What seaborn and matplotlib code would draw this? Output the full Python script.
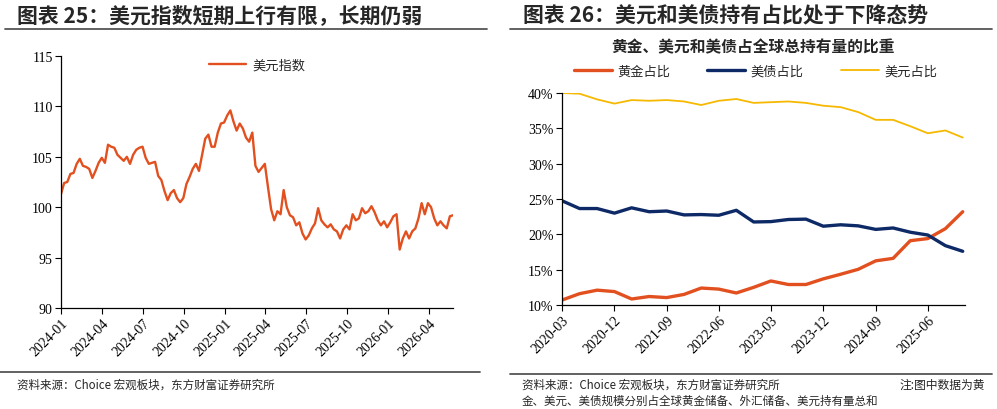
import matplotlib
matplotlib.use("Agg")
import matplotlib.pyplot as plt
import matplotlib.dates as mdates
from matplotlib.ticker import PercentFormatter
import pandas as pd
import seaborn as sns

# ---- data ----
# 美元指数, weekly readings from 2024-01-01
dxy = [101.3, 102.4, 102.5, 103.3, 103.4, 104.3, 104.8, 104.1, 104.0, 103.8,
       102.9, 103.6, 104.4, 104.9, 104.4, 106.2, 106.0, 105.9, 105.2, 104.9,
       104.6, 105.0, 104.3, 105.2, 105.7, 105.9, 106.0, 104.9, 104.3, 104.4,
       104.5, 103.1, 102.7, 101.6, 100.7, 101.4, 101.7, 100.9, 100.5, 100.9,
       102.3, 103.0, 103.8, 104.3, 103.6, 105.2, 106.8, 107.2, 106.0, 106.0,
       107.4, 108.3, 108.4, 109.1, 109.6, 108.5, 107.6, 108.3, 107.8, 106.9,
       106.5, 107.4, 104.1, 103.5, 103.9, 104.3, 102.0, 99.8, 98.7, 99.6,
       99.3, 101.7, 100.0, 99.2, 99.0, 98.2, 98.5, 97.4, 96.8, 97.2,
       97.9, 98.4, 99.9, 98.7, 98.3, 98.0, 98.3, 97.8, 97.6, 96.9,
       97.8, 98.2, 97.8, 99.3, 98.7, 98.9, 99.9, 99.4, 99.6, 100.1,
       99.5, 98.7, 98.2, 98.6, 98.0, 98.5, 99.1, 99.3, 95.8, 96.9,
       97.6, 96.9, 97.6, 97.9, 98.9, 100.4, 99.3, 100.4, 100.0, 98.9,
       98.2, 98.6, 98.2, 97.9, 99.1, 99.2]
dxy_start = "2024-01-01"
left_ticks = ["2024-01", "2024-04", "2024-07", "2024-10", "2025-01",
              "2025-04", "2025-07", "2025-10", "2026-01", "2026-04"]

quarters = ["2020-03", "2020-06", "2020-09", "2020-12", "2021-03", "2021-06",
            "2021-09", "2021-12", "2022-03", "2022-06", "2022-09", "2022-12",
            "2023-03", "2023-06", "2023-09", "2023-12", "2024-03", "2024-06",
            "2024-09", "2024-12", "2025-03", "2025-06", "2025-09", "2025-12"]
gold_share = [10.7, 11.6, 12.1, 11.9, 10.85, 11.2, 11.05, 11.5, 12.4, 12.25,
              11.7, 12.5, 13.4, 12.9, 12.9, 13.7, 14.35, 15.05, 16.25, 16.6,
              19.1, 19.4, 20.8, 23.2]
ust_share = [24.75, 23.65, 23.65, 23.0, 23.75, 23.2, 23.3, 22.75, 22.8, 22.7,
             23.4, 21.75, 21.8, 22.1, 22.15, 21.15, 21.35, 21.2, 20.7, 20.9,
             20.3, 19.9, 18.4, 17.6]
usd_share = [40.0, 39.9, 39.1, 38.5, 39.0, 38.9, 39.0, 38.8, 38.3, 38.9,
             39.15, 38.6, 38.7, 38.8, 38.6, 38.2, 38.0, 37.3, 36.2, 36.2,
             35.3, 34.3, 34.7, 33.7]
series_names = ["黄金占比", "美债占比", "美元占比"]
right_ticks = ["2020-03", "2020-12", "2021-09", "2022-06", "2023-03",
               "2023-12", "2024-09", "2025-06"]

# ---- style ----
sns.set_theme(style="ticks")
plt.rcParams["font.family"] = ["Noto Sans CJK SC", "DejaVu Sans"]
orange = "#E2501F"
navy = "#0D2A66"
yellow = "#F6B900"
W, H = 997, 410

fig = plt.figure(figsize=(W / 100, H / 100), dpi=100)


def fx(px):
    return px / W


def fy(py):
    return 1 - py / H


# ---- left panel ----
df_l = pd.DataFrame({"date": pd.date_range(dxy_start, periods=len(dxy), freq="7D"),
                     "美元指数": dxy})
ax1 = fig.add_axes([fx(61), fy(309), fx(453 - 61), (309 - 57) / H])
sns.lineplot(data=df_l, x="date", y="美元指数", color=orange, lw=1.7,
             label="美元指数", ax=ax1)
ax1.set_ylim(90, 115)
ax1.set_yticks(range(90, 116, 5))
ax1.set_xlim(pd.Timestamp("2024-01-01"), df_l["date"].iloc[-1])
ax1.set_xticks(pd.to_datetime(left_ticks))
ax1.xaxis.set_major_formatter(mdates.DateFormatter("%Y-%m"))
ax1.legend(loc="center", bbox_to_anchor=(0.5, 0.964), frameon=False,
           handlelength=2.8, fontsize=9.5, handletextpad=0.5)

# ---- right panel ----
df_r = pd.DataFrame({"date": pd.to_datetime(quarters),
                     series_names[0]: gold_share,
                     series_names[1]: ust_share,
                     series_names[2]: usd_share})
df_r = df_r.melt(id_vars="date", var_name="系列", value_name="占比")
ax2 = fig.add_axes([fx(562), fy(306), fx(965 - 562), (306 - 94) / H])
sns.lineplot(data=df_r, x="date", y="占比", hue="系列", hue_order=series_names,
             palette=[orange, navy, yellow], size="系列",
             sizes={series_names[0]: 2.4, series_names[1]: 2.4, series_names[2]: 1.3},
             ax=ax2)
ax2.set_ylim(10, 40)
ax2.set_yticks(range(10, 41, 5))
ax2.yaxis.set_major_formatter(PercentFormatter(decimals=0))
ax2.set_xlim(pd.Timestamp(quarters[0]), pd.Timestamp(quarters[-1]) + pd.Timedelta(days=12))
ax2.set_xticks(pd.to_datetime(right_ticks))
ax2.xaxis.set_major_formatter(mdates.DateFormatter("%Y-%m"))
handles, labels = ax2.get_legend_handles_labels()
ax2.legend(handles[:3], labels[:3], loc="center", bbox_to_anchor=(0.48, 1.104),
           ncol=3, frameon=False, handlelength=2.9, columnspacing=2.8,
           handletextpad=0.4, fontsize=9.5)

for ax in (ax1, ax2):
    ax.set_xlabel("")
    ax.set_ylabel("")
    sns.despine(ax=ax)
    for s in ("left", "bottom"):
        ax.spines[s].set_color("black")
        ax.spines[s].set_linewidth(0.9)
    ax.tick_params(axis="both", direction="out", length=4, width=0.8,
                   color="black", labelsize=10, labelcolor="black",
                   labelfontfamily="Liberation Serif", pad=2)
    ax.tick_params(axis="x", labelrotation=45)
    for lab in ax.get_xticklabels():
        lab.set_ha("right")
        lab.set_rotation_mode("anchor")

# ---- titles, rules, notes ----
fig.text(fx(17), fy(16), "图表 25：美元指数短期上行有限，长期仍弱",
         fontsize=15, fontweight="bold", va="center", ha="left")
fig.text(fx(523), fy(16), "图表 26：美元和美债持有占比处于下降态势",
         fontsize=15, fontweight="bold", va="center", ha="left")
fig.text(fx(753), fy(47), "黄金、美元和美债占全球总持有量的比重",
         fontsize=11.3, fontweight="bold", va="center", ha="center")
for x0, x1, y in [(5, 487, 29.5), (510, 992, 30), (0, 480, 373), (510, 992, 375)]:
    fig.add_artist(plt.Line2D([fx(x0), fx(x1)], [fy(y), fy(y)], color="#555555",
                              lw=1.3, transform=fig.transFigure))

fig.text(fx(17), fy(385), "资料来源：Choice 宏观板块，东方财富证券研究所",
         fontsize=8.3, va="center", ha="left")
fig.text(fx(522), fy(385), "资料来源：Choice 宏观板块，东方财富证券研究所",
         fontsize=8.3, va="center", ha="left")
fig.text(fx(985), fy(385), "注:图中数据为黄",
         fontsize=8.5, va="center", ha="right")
fig.text(fx(522), fy(401), "金、美元、美债规模分别占全球黄金储备、外汇储备、美元持有量总和",
         fontsize=8.3, va="center", ha="left")

fig.savefig("out.png", dpi=100)
